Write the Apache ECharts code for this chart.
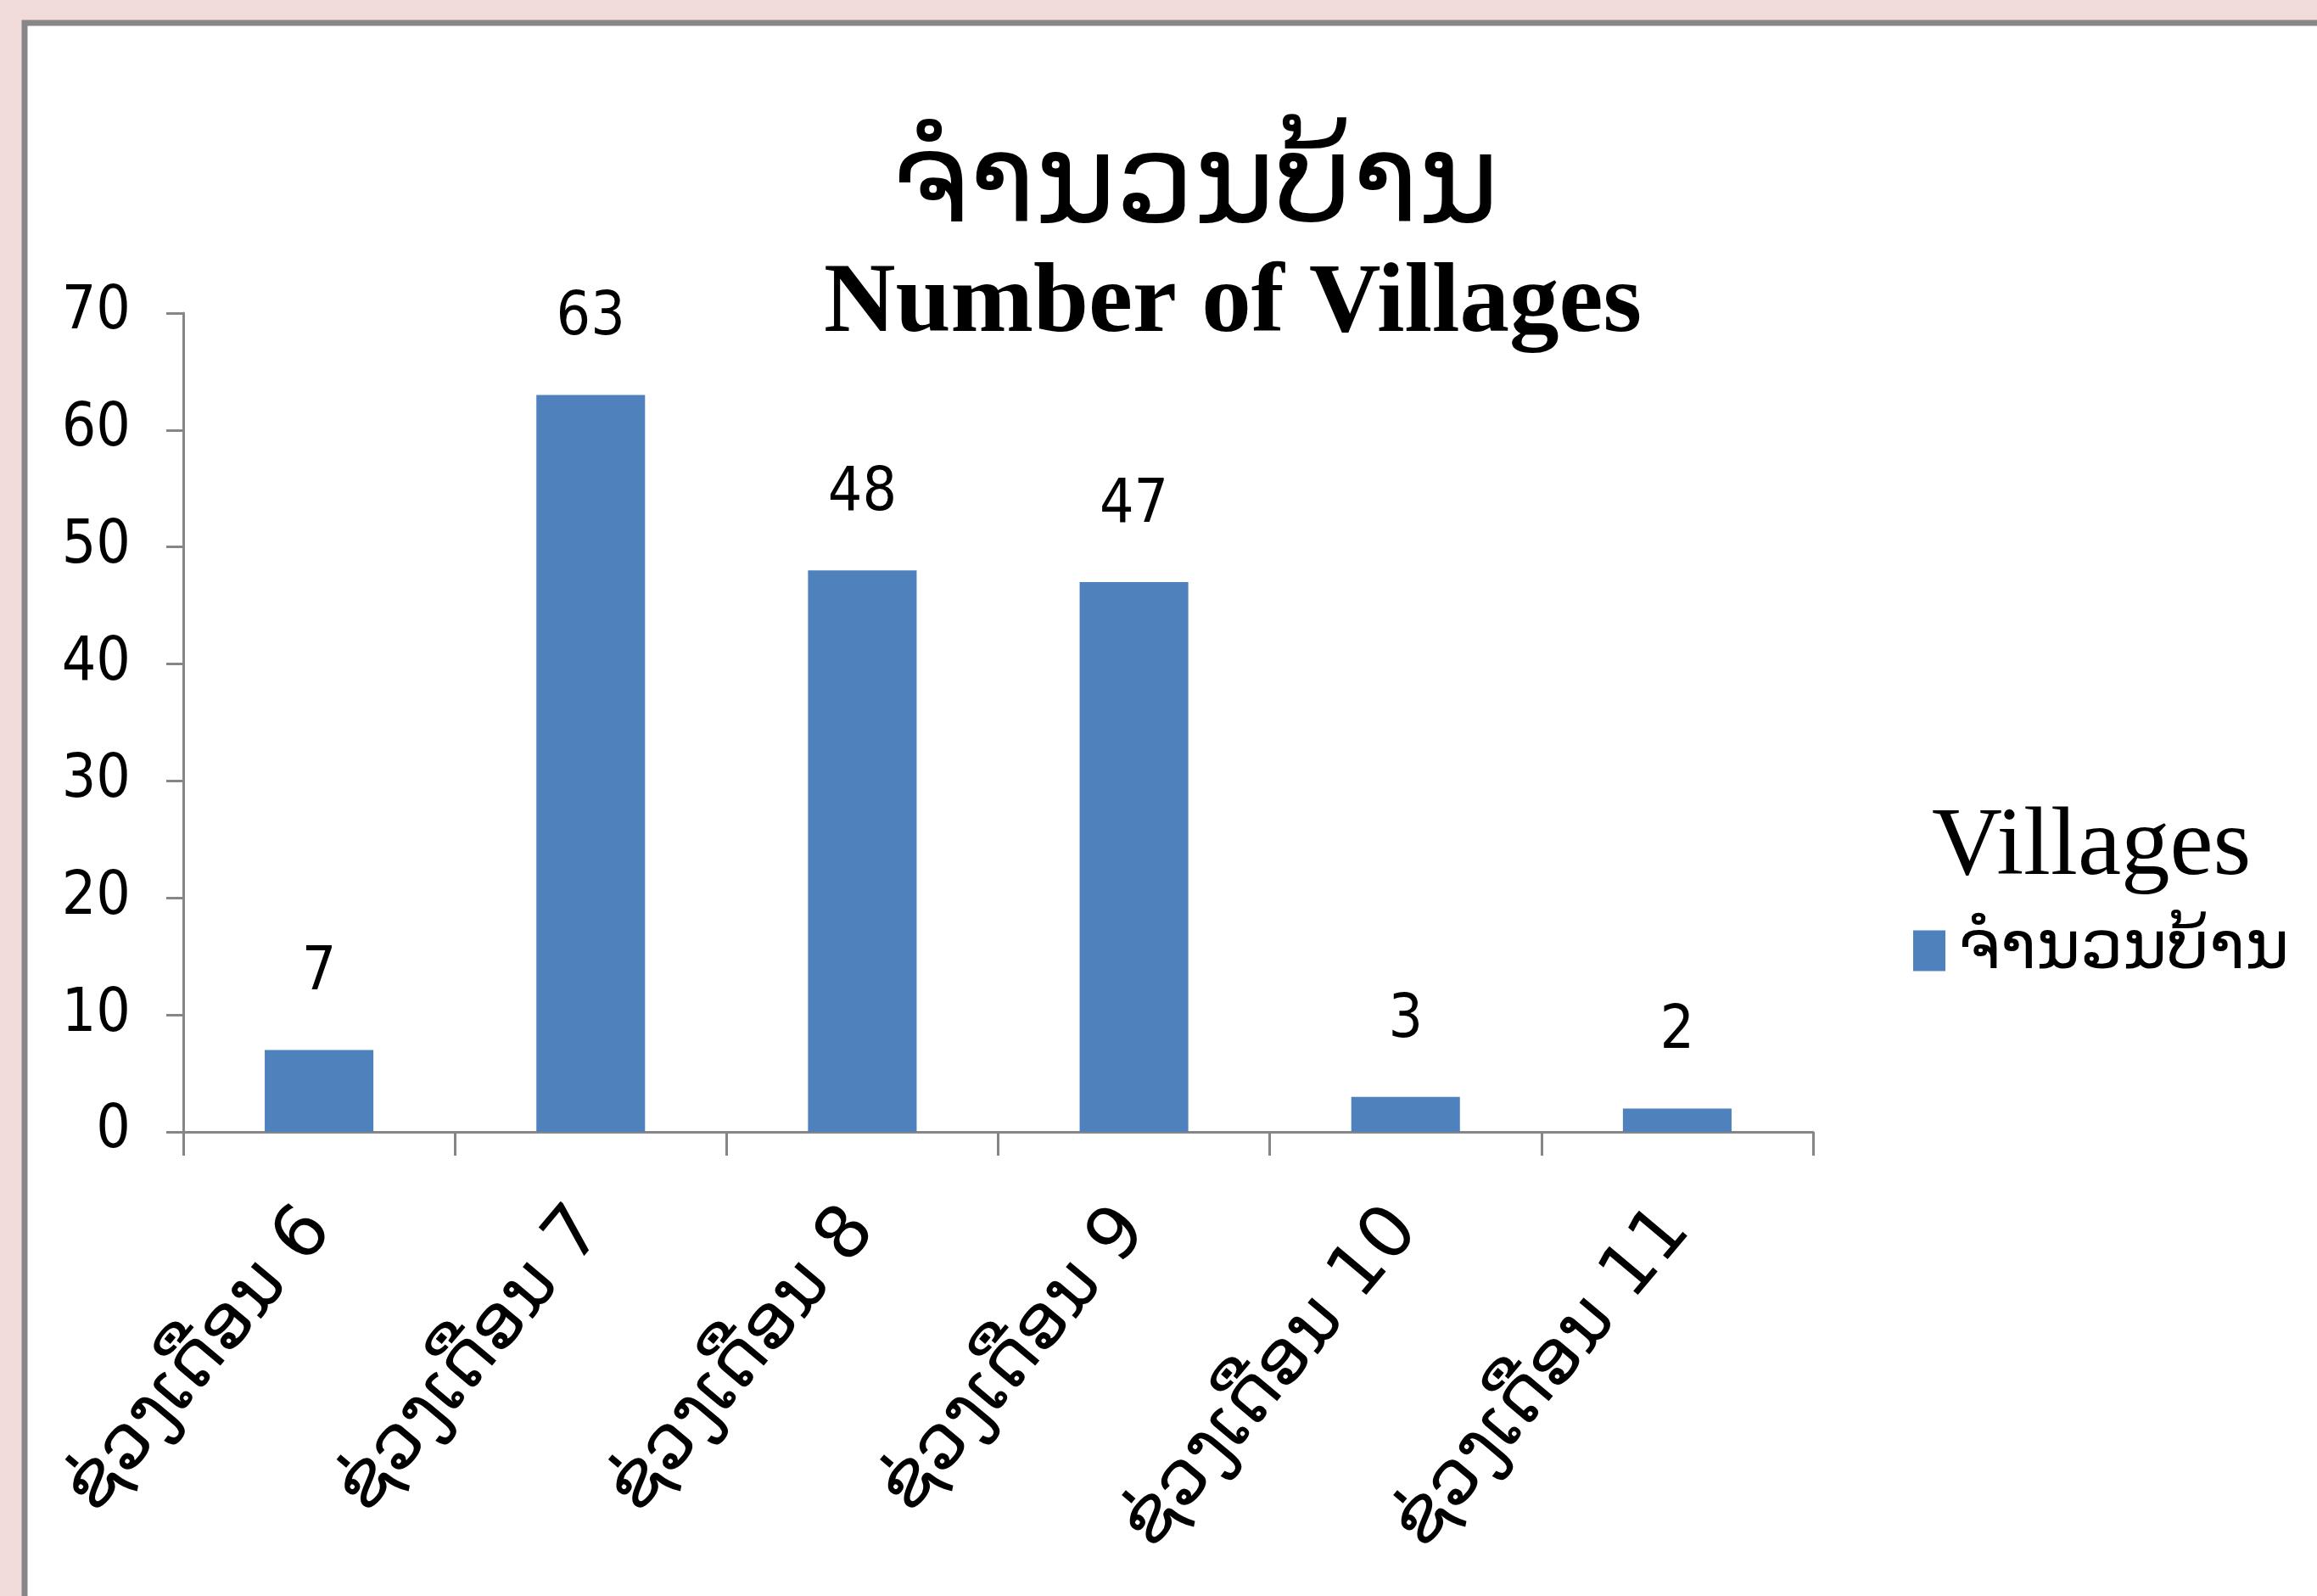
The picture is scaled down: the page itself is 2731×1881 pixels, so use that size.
<!DOCTYPE html>
<html>
<head>
<meta charset="utf-8">
<script src="https://cdn.jsdelivr.net/npm/echarts@6/dist/echarts.min.js"></script>
<style>
  html, body { margin: 0; padding: 0; background: #f2dcdb; }
  #chart { width: 2731px; height: 1881px; }
</style>
</head>
<body>
<div id="chart"></div>
<script>
// data
var categories = ['ຊ່ວງເດືອນ 6', 'ຊ່ວງເດືອນ 7', 'ຊ່ວງເດືອນ 8', 'ຊ່ວງເດືອນ 9', 'ຊ່ວງເດືອນ 10', 'ຊ່ວງເດືອນ 11'];
var villages = [7, 63, 48, 47, 3, 2];
var seriesName = 'ຈຳນວນບ້ານ';
var yTicks = [0, 10, 20, 30, 40, 50, 60, 70];

var laoFont = '"DejaVu Sans", "Noto Sans", sans-serif';
var numFont = '"Liberation Sans Narrow", "DejaVu Sans Condensed", Lato, sans-serif';
var serifFont = '"Liberation Serif", "DejaVu Serif", serif';

var chart = echarts.init(document.getElementById('chart'));
var option = {
    backgroundColor: '#f2dcdb',
    animation: false,
    graphic: [
        {
            type: 'rect',
            z: -10,
            shape: { x: 29, y: 27, width: 2760, height: 1900 },
            style: { fill: '#ffffff', stroke: '#878787', lineWidth: 7 }
        }
    ],
    title: [
        {
            text: seriesName,
            left: 1404,
            top: 146,
            textAlign: 'center',
            textStyle: { fontFamily: laoFont, fontSize: 145, fontWeight: 'normal', color: '#000' }
        },
        {
            text: 'Number of Villages',
            left: 1448,
            top: 296,
            textAlign: 'center',
            textStyle: { fontFamily: serifFont, fontSize: 117, fontWeight: 'bold', color: '#000' }
        },
        {
            text: 'Villages',
            left: 2272,
            top: 937,
            textStyle: { fontFamily: serifFont, fontSize: 115, fontWeight: 'normal', color: '#000' }
        }
    ],
    legend: {
        data: [seriesName],
        left: 2250,
        top: 1076,
        itemWidth: 38,
        itemHeight: 48,
        icon: 'rect',
        textStyle: { fontFamily: laoFont, fontSize: 79, color: '#000', padding: [0, 0, 0, 10] }
    },
    grid: {
        left: 216,
        right: 594,
        top: 369,
        bottom: 547,
        containLabel: false
    },
    xAxis: {
        type: 'category',
        data: categories,
        axisLine: { lineStyle: { color: '#868686', width: 3 } },
        axisTick: { show: true, length: 28, lineStyle: { color: '#868686', width: 3 } },
        axisLabel: {
            rotate: 50,
            margin: 102,
            interval: 0,
            fontFamily: laoFont,
            fontSize: 86,
            color: '#000',
            padding: [0, 0, 0, 0]
        }
    },
    yAxis: {
        type: 'value',
        min: yTicks[0],
        max: yTicks[yTicks.length - 1],
        interval: 10,
        axisLine: { show: true, lineStyle: { color: '#868686', width: 3 } },
        axisTick: { show: true, length: 20, lineStyle: { color: '#868686', width: 3 } },
        splitLine: { show: false },
        axisLabel: {
            margin: 62,
            fontFamily: numFont,
            fontSize: 71,
            color: '#000'
        }
    },
    series: [
        {
            name: seriesName,
            type: 'bar',
            data: villages,
            barCategoryGap: '60%',
            itemStyle: { color: '#4f81bd' },
            label: {
                show: true,
                position: 'top',
                distance: 54,
                fontFamily: numFont,
                fontSize: 71,
                color: '#000'
            }
        }
    ]
};
chart.setOption(option);
</script>
</body>
</html>
